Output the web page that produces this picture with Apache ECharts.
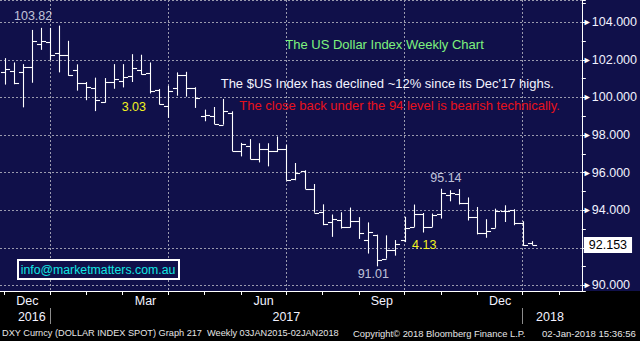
<!DOCTYPE html>
<html><head><meta charset="utf-8">
<script src="https://cdn.jsdelivr.net/npm/echarts@6/dist/echarts.min.js"></script>
<style>html,body{margin:0;padding:0;background:#000}#c{width:640px;height:341px}</style>
</head><body><div id="c"></div>
<script>
// Weekly categories (Friday dates); the last five are empty weeks (blank space before the axis)
const dates = [
 '2016-11-25','2016-12-02','2016-12-09','2016-12-16','2016-12-23','2016-12-30',
 '2017-01-06','2017-01-13','2017-01-20','2017-01-27','2017-02-03','2017-02-10','2017-02-17','2017-02-24',
 '2017-03-03','2017-03-10','2017-03-17','2017-03-24','2017-03-31','2017-04-07','2017-04-14','2017-04-21','2017-04-28',
 '2017-05-05','2017-05-12','2017-05-19','2017-05-26','2017-06-02','2017-06-09','2017-06-16','2017-06-23','2017-06-30',
 '2017-07-07','2017-07-14','2017-07-21','2017-07-28','2017-08-04','2017-08-11','2017-08-18','2017-08-25',
 '2017-09-01','2017-09-08','2017-09-15','2017-09-22','2017-09-29','2017-10-06','2017-10-13','2017-10-20','2017-10-27',
 '2017-11-03','2017-11-10','2017-11-17','2017-11-24','2017-12-01','2017-12-08','2017-12-15','2017-12-22','2017-12-29',
 '2018-01-05','2018-01-12','2018-01-19','2018-01-26','2018-02-02','2018-02-09'
];
const opens = [101.36,101.42,101.34,101.63,102.83,102.96,102.35,102.25,101.47,100.77,
 100.49,99.76,100.82,100.85,101.14,101.46,101.31,100.39,99.55,100.50,
 101.21,100.50,99.01,99.03,98.55,99.18,97.14,97.43,96.71,97.27,
 97.14,97.27,95.64,96.06,95.11,93.92,93.36,93.50,93.08,93.45,
 92.41,92.70,91.42,91.89,92.39,93.11,93.77,93.11,93.77,94.83,
 94.88,94.40,93.64,92.76,93.06,93.94,93.99,93.34,92.26];
const highs = [102.09,101.86,101.77,103.59,103.70,103.70,103.82,103.01,101.76,100.82,
 101.05,101.03,101.77,101.77,102.30,102.27,101.86,100.45,100.62,101.33,
 101.36,100.54,99.35,99.49,99.92,99.26,97.58,97.78,97.56,97.56,
 97.92,97.47,96.51,96.12,95.39,94.31,93.77,93.89,94.14,93.63,
 93.35,92.70,92.66,92.41,93.65,94.30,93.85,93.82,95.14,95.06,
 95.12,94.68,94.17,93.52,94.08,94.26,94.05,93.41,92.35];
const lows = [100.68,100.70,99.47,100.78,102.53,101.99,101.33,101.15,100.36,99.85,
 99.27,99.72,100.46,100.53,100.82,101.21,100.21,99.62,98.91,100.09,
 100.04,99.44,98.73,98.58,98.55,97.14,96.86,96.71,96.54,96.33,
 97.09,95.59,95.59,95.13,93.87,93.20,92.58,93.02,93.08,92.47,
 91.69,91.01,91.42,91.58,92.30,93.11,92.81,93.11,93.55,94.47,
 94.30,93.45,92.71,92.53,93.06,93.37,93.20,92.10,92.15];
const closes = [101.51,100.76,101.63,103.01,103.01,102.27,102.25,101.19,100.77,100.56,
 99.84,100.82,100.98,101.10,101.56,101.27,100.32,99.65,100.36,101.21,
 100.50,99.96,99.06,98.59,99.26,97.14,97.53,96.71,97.27,97.14,
 97.27,95.59,95.98,95.13,93.87,93.24,93.53,93.08,93.45,92.78,
 92.83,91.34,91.87,92.18,93.07,93.82,93.08,93.73,94.93,94.93,
 94.40,93.64,92.76,92.88,93.94,93.94,93.34,92.14,92.153];
const monthLabelDates = ['2016-12-16','2017-03-17','2017-06-16','2017-09-15','2017-12-15'];
const monthLabels = ['Dec','Mar','Jun','Sep','Dec'];
const yearLabelDates = ['2016-12-16','2017-06-30','2018-01-19'];
const yearLabels = ['2016','2017','2018'];
const moveNotes = ['3.03','4.13'];

const FONT = '"Liberation Sans", Arial, sans-serif';
const NAVY = '#10104a';
const GRIDC = '#9a9aae';

const mon = d => +d.slice(5,7);
const yr = d => d.slice(0,4);
const isMonthEnd = i => i < dates.length - 1 && mon(dates[i+1]) !== mon(dates[i]);
const isQuarterEnd = i => isMonthEnd(i) && mon(dates[i]) % 3 === 0;
const isYearEnd = i => i < dates.length - 1 && yr(dates[i+1]) !== yr(dates[i]);

const ohlc = opens.map((o,i)=>[i, o, closes[i], lows[i], highs[i]]);
let iMax = 0, iMin = 0;
highs.forEach((h,i)=>{ if (h > highs[iMax]) iMax = i; });
lows.forEach((l,i)=>{ if (l < lows[iMin]) iMin = i; });
let iPeak = iMin;
for (let i = iMin; i < highs.length; i++) if (highs[i] > highs[iPeak]) iPeak = i;
const lastClose = closes[closes.length-1];

function txt(x, y, text, color, size, extra) {
  return Object.assign({type:'text', x, y, z:10, silent:true,
    style:{text, fill:color, font: size + 'px ' + FONT, verticalAlign:'middle'}}, extra||{});
}

const chart = echarts.init(document.getElementById('c'), null, {renderer:'svg', width:640, height:341});
chart.setOption({
  animation:false,
  backgroundColor:'#000',
  grid:{left:-1, right:58, top:-1, bottom:50, containLabel:false},
  xAxis:[{
    type:'category', data:dates, boundaryGap:true, position:'bottom',
    axisLine:{show:true, lineStyle:{color:'#fff', width:1}},
    axisTick:{show:true, alignWithLabel:true, length:4, interval:(i)=>isMonthEnd(i), lineStyle:{color:'#fff'}},
    axisLabel:{show:true, margin:3, color:'#f2f2ff', fontSize:12.5, fontFamily:FONT, padding:[0,9,0,0],
      interval:(i,v)=>monthLabelDates.includes(v),
      formatter:(v)=>monthLabels[monthLabelDates.indexOf(v)]},
    splitLine:{show:true, alignWithLabel:true, interval:(i)=>isQuarterEnd(i), lineStyle:{color:GRIDC, type:[2,2], width:1}}
  },{
    type:'category', data:dates, boundaryGap:true, position:'bottom', offset:17,
    axisLine:{show:false},
    axisTick:{show:true, alignWithLabel:true, length:16, interval:(i)=>isYearEnd(i), lineStyle:{color:'#8c8c8c'}},
    axisLabel:{show:true, margin:2, color:'#f2f2ff', fontSize:12.5, fontFamily:FONT,
      interval:(i,v)=>yearLabelDates.includes(v),
      formatter:(v)=>yearLabels[yearLabelDates.indexOf(v)]},
    splitLine:{show:false}
  }],
  yAxis:[{
    type:'value', position:'right', min:89.699, max:105.182, splitNumber:8, minInterval:2, maxInterval:2,
    axisLine:{show:true, lineStyle:{color:'#fff', width:1}},
    axisTick:{show:false},
    axisLabel:{show:true, margin:1, showMinLabel:false, showMaxLabel:false,
      // the tick label under the last-price tag is hidden, as in the reference
      formatter:(v)=> Math.abs(v - lastClose) < 0.9 ? '' : '{t|\u25BA}{v|' + v.toFixed(3) + '}',
      rich:{t:{fontSize:9, color:'#fff', width:9, fontFamily:FONT},
            v:{fontSize:12.5, color:'#f2f2ff', fontFamily:FONT}}},
    splitLine:{show:true, lineStyle:{color:GRIDC, type:[2,2], width:1}}
  },{
    type:'value', position:'right', min:89.699, max:105.182, splitNumber:16, minInterval:1, maxInterval:1,
    axisLine:{show:false}, axisLabel:{show:false}, splitLine:{show:false},
    axisTick:{show:true, length:4, lineStyle:{color:'#fff'}}
  }],
  series:[{
    type:'custom', xAxisIndex:0, yAxisIndex:0, data:ohlc, encode:{x:0, y:[1,2,3,4]}, silent:true,
    renderItem:(params, api)=>{
      const i = api.value(0);
      const o = api.coord([i, api.value(1)]);
      const c = api.coord([i, api.value(2)]);
      const l = api.coord([i, api.value(3)]);
      const h = api.coord([i, api.value(4)]);
      const w = api.size([1,0])[0] * 0.5;
      const x = Math.round(h[0]) + 0.5;
      const st = {stroke:'#fff', lineWidth:1.1};
      const oy = Math.round(o[1]) + 0.5, cy = Math.round(c[1]) + 0.5;
      return {type:'group', children:[
        {type:'line', shape:{x1:x, y1:h[1], x2:x, y2:l[1]}, style:st},
        {type:'line', shape:{x1:x-w, y1:oy, x2:x, y2:oy}, style:st},
        {type:'line', shape:{x1:x, y1:cy, x2:x+w, y2:cy}, style:st}
      ]};
    }
  },{
    type:'scatter', xAxisIndex:0, yAxisIndex:0, symbolSize:0, silent:true,
    label:{show:true, position:'inside', color:'#eef2ff', fontSize:12.5, fontFamily:FONT,
      formatter:(p)=>p.value[1].toFixed(2)},
    data:[
      {value:[iMax, highs[iMax]], label:{offset:[-26,-10]}},
      {value:[iPeak, highs[iPeak]], label:{offset:[5,-11]}},
      {value:[iMin, lows[iMin]], label:{offset:[-4,7.5]}}
    ],
    markLine:{silent:true, z:20, precision:3, symbol:['none','none'],
      lineStyle:{color:'rgba(0,0,0,0)', width:0, type:'solid'},
      data:[{yAxis:lastClose}],
      label:{show:true, position:'end', distance:2,
        formatter:(p)=>'{b|' + Number(p.value).toFixed(3) + '}',
        rich:{b:{backgroundColor:'#ffffff', color:'#000000', fontSize:12.5, fontFamily:FONT, padding:[2,5,1,5]}}}}
  }],
  graphic:[
    {type:'rect', z:-100, silent:true, shape:{x:0, y:0, width:640, height:291}, style:{fill:NAVY}},
    txt(285.3, 44, 'The US Dollar Index Weekly Chart', '#7ef27e', 13),
    txt(220.7, 83, 'The $US Index has declined ~12% since its Dec\'17 highs.', '#f4f4ff', 13),
    txt(239.3, 105, 'The close back under the 94 level is bearish technically.', '#e8121c', 13),
    txt(121.7, 107, moveNotes[0], '#f2f21e', 12.5),
    txt(412, 244.5, moveNotes[1], '#f2f21e', 12.5),
    {type:'rect', z:10, silent:true, shape:{x:18, y:260, width:161, height:19}, style:{fill:NAVY, stroke:'#fff', lineWidth:2}},
    txt(20.7, 270, 'info@marketmatters.com.au', '#12e6e2', 12.3, {z:11}),
    txt(2, 333, 'DXY Curncy (DOLLAR INDEX SPOT) Graph 217  Weekly 03JAN2015-02JAN2018', '#e6e6e6', 9.2),
    txt(353, 333, 'Copyright\u00A9 2018 Bloomberg Finance L.P.', '#e6e6e6', 9.4),
    txt(542, 333, '02-Jan-2018 15:36:56', '#e6e6e6', 9.6)
  ]
});
</script>
</body></html>
